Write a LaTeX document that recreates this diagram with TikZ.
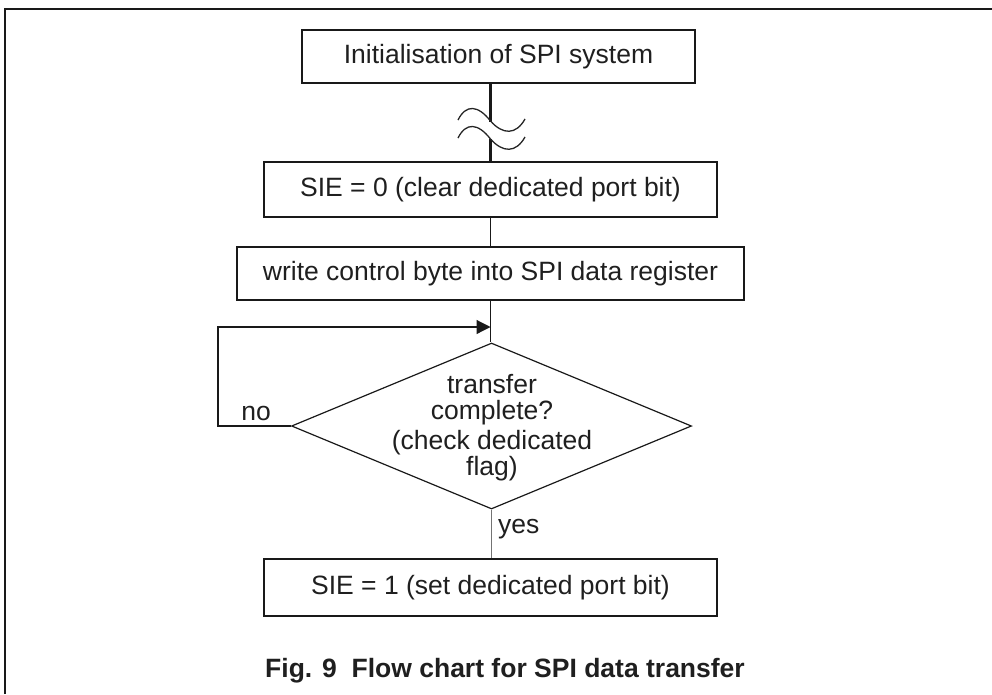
\documentclass[tikz,border=0pt]{standalone}
\usepackage{fontspec}
\setmainfont{Liberation Sans}
\usetikzlibrary{shapes.geometric,arrows.meta}
\begin{document}
\begin{tikzpicture}[x=1pt,y=-1pt,
  txt/.style={font=\fontsize{26.5}{26}\selectfont, text=black!88, inner sep=0pt},
  procbox/.style={txt, draw=black!90, line width=1.4pt},
  conn/.style={draw=black!90, line width=1.2pt},
  thickconn/.style={draw=black!90, line width=2.2pt},
  wave/.style={draw=black!85, line width=1.3pt},
  frame/.style={draw=black!90, line width=1.6pt}]
\useasboundingbox (0,0) rectangle (992,694);
% frame
\draw[frame] (5,694) -- (5,9) -- (992,9);
% nodes
\node[procbox, minimum width=393pt, minimum height=53pt] (b1) at (498.5,56.5) {Initialisation of SPI system};
\node[procbox, minimum width=453pt, minimum height=55pt] (b2) at (490.5,189.5) {SIE = 0 (clear dedicated port bit)};
\node[procbox, minimum width=507pt, minimum height=53pt] (b3) at (490.5,273.5) {write control byte into SPI data register};
\node[draw=black!90, line width=1.2pt, diamond, inner sep=0pt, minimum width=400pt, minimum height=166pt] (dec) at (491.5,426) {};
\node[txt, align=center] (dectext) at (492,428) {transfer\\complete?\\[4pt](check dedicated\\flag)};
\node[procbox, minimum width=453pt, minimum height=57pt] (b4) at (490.5,587.5) {SIE = 1 (set dedicated port bit)};
\node[txt, anchor=base] (no) at (256,420) {no};
\node[txt, anchor=base west] (yes) at (498,533) {yes};
\node[txt, font=\bfseries\fontsize{26.5}{26}\selectfont, anchor=base] (cap) at (505,677) {Fig. 9\ \ Flow chart for SPI data transfer};
% break marks on first connector
\coordinate (cutA) at (490.5,122);
\coordinate (cutB) at (490.5,139);
\draw[thickconn] (b2.north |- b1.south) -- (cutA);
\draw[thickconn] (cutB) -- (b2.north);
\draw[wave] (458,120) .. controls (466,104) and (478,105) .. (490.5,121) .. controls (503,135) and (516,135) .. (525,119);
\draw[wave] (458,138) .. controls (466,122) and (478,123) .. (490.5,139) .. controls (503,153) and (516,153) .. (525,137);
% connectors
\draw[conn] (b2.south) -- (b3.north);
\draw[conn] (b3.south) -- (b3.south |- dec.north);
\coordinate (merge) at (490.5,327);
\coordinate (loopT) at (218,327);
\draw[conn, -{Triangle[length=14pt,width=14pt]}] (dec.west) -- (dec.west -| loopT) -- (loopT) -- (merge);
\draw[conn, draw=black!55] (dec.south) -- (dec.south |- b4.north);
\end{tikzpicture}
\end{document}
